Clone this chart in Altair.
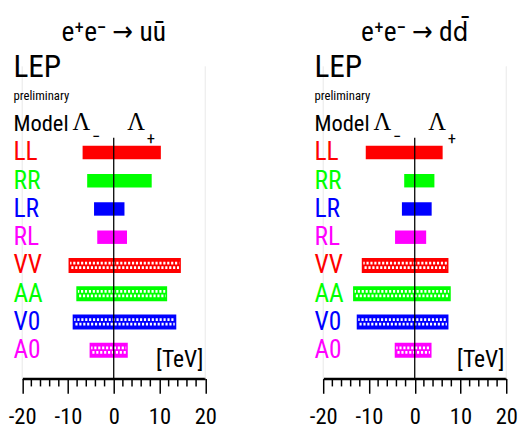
import altair as alt
import pandas as pd

# ---------------- data ----------------
models = ["LL", "RR", "LR", "RL", "VV", "AA", "V0", "A0"]
model_colors = ["#ff0000", "#00ff00", "#0000ff", "#ff00ff",
                "#ff0000", "#00ff00", "#0000ff", "#ff00ff"]
hatched = [False, False, False, False, True, True, True, True]

# e+e- -> u ubar : limits (TeV), lower = -Lambda_-, upper = +Lambda_+
uu_lo = [-6.8, -5.8, -4.3, -3.6, -9.7, -8.0, -8.8, -5.1]
uu_hi = [10.3, 8.3, 2.35, 2.9, 14.5, 11.5, 13.5, 2.9]
# e+e- -> d dbar
dd_lo = [-10.7, -2.3, -2.8, -4.3, -11.4, -13.3, -12.5, -4.2]
dd_hi = [6.1, 4.3, 3.7, 2.5, 7.2, 7.7, 7.2, 3.5]

panel_titles = ["e\u207ae\u207b \u2192 u\u016b", "e\u207ae\u207b \u2192 dd\u0304"]
header_texts = ["LEP", "preliminary", "Model"]
lambda_text = "\u039b"
lambda_subs = ["\u2212", "+"]
unit_text = "[TeV]"
major_ticks = [-20, -10, 0, 10, 20]
minor_ticks = [-18, -16, -14, -12, -8, -6, -4, -2, 2, 4, 6, 8, 12, 14, 16, 18]
frame_edges = [-20, 20]

FONT = "Liberation Sans Narrow, Arial Narrow, Roboto Condensed, DejaVu Sans Condensed, sans-serif"
SERIF = "Liberation Serif, Times New Roman, DejaVu Serif, serif"
W, H = 516, 374


def panel(lo, hi, title, r0, r1):
    xs = alt.Scale(domain=[-20, 20], range=[r0, r1], nice=False, zero=False)
    ax = alt.Axis(values=major_ticks, orient="bottom", tickSize=15, tickWidth=1.5,
                  tickColor="black", domainColor="black", domainWidth=2.5,
                  labelFont=FONT, labelFontSize=23, labelColor="black",
                  labelPadding=13, title=None, grid=False,
                  labelExpr="datum.value + ''", labelOverlap=False, labelFlush=False)
    ys = alt.Scale(domain=models, range=[128.57, 359.43],
                   paddingInner=0.525, paddingOuter=0.2625)
    cs = alt.Scale(domain=models, range=model_colors)
    df = pd.DataFrame({"model": models, "lo": lo, "hi": hi, "hatched": hatched})

    def X(field=None, datum=None):
        if datum is not None:
            return alt.X(datum=datum, type="quantitative", scale=xs, axis=ax)
        return alt.X(field, type="quantitative", scale=xs, axis=ax)

    Y = alt.Y("model:N", scale=ys, axis=None, sort=models)
    C = alt.Color("model:N", scale=cs, legend=None)
    base = alt.Chart(df)

    frame = alt.Chart(pd.DataFrame({"v": frame_edges})).mark_rule(
        color="#e8e8e8", strokeWidth=1).encode(x=X("v"), y=alt.value(55), y2=alt.value(H))

    bars = base.mark_bar().encode(x=X("lo"), x2="hi", y=Y, color=C)
    hb = base.transform_filter("datum.hatched")
    holes1 = hb.mark_rule(color="white", strokeWidth=2.8, strokeDash=[2.2, 1.8],
                          yOffset=-2.3).encode(x=X("lo"), x2="hi", y=Y)
    holes2 = hb.mark_rule(color="white", strokeWidth=2.8, strokeDash=[2.2, 1.8],
                          strokeDashOffset=2, yOffset=2.3).encode(x=X("lo"), x2="hi", y=Y)
    border = hb.mark_bar(filled=False, strokeWidth=1.6).encode(x=X("lo"), x2="hi", y=Y, color=C)

    zero = alt.Chart(pd.DataFrame({"v": [0]})).mark_rule(
        color="black", strokeWidth=1.3).encode(x=X("v"), y=alt.value(128), y2=alt.value(H))
    minor = alt.Chart(pd.DataFrame({"v": minor_ticks})).mark_rule(
        color="black", strokeWidth=1.5).encode(x=X("v"), y=alt.value(H), y2=alt.value(H + 8))

    labels = base.mark_text(align="left", baseline="middle", dx=-9, font=FONT,
                            fontSize=26).encode(x=X(datum=-20), y=Y, text="model:N", color=C)

    def txt(s, xd, dx, y, size, font=FONT, align="left", baseline="alphabetic"):
        return alt.Chart(pd.DataFrame({"t": [s]})).mark_text(
            align=align, baseline=baseline, dx=dx, font=font, fontSize=size,
            color="black").encode(x=X(datum=xd), y=alt.value(y), text="t:N")

    texts = [
        txt(title, 0, 0, 29, 28, align="center"),
        txt(header_texts[0], -20, -9, 66, 32),
        txt(header_texts[1], -20, -9, 89, 13),
        txt(header_texts[2], -20, -9, 121, 23),
        txt(lambda_text, 0, -33, 120, 25, font=SERIF, align="center"),
        txt(lambda_subs[0], 0, -18, 127, 17, align="center", baseline="middle"),
        txt(lambda_text, 0, 23, 120, 25, font=SERIF, align="center"),
        txt(lambda_subs[1], 0, 38, 129, 17, align="center", baseline="middle"),
        txt(unit_text, 20, -2, 362, 24, align="right"),
    ]

    return alt.layer(frame, bars, holes1, holes2, border, zero, minor, labels, *texts)


left = panel(uu_lo, uu_hi, panel_titles[0], 12.5, 199.5)
right = panel(dd_lo, dd_hi, panel_titles[1], 320, 507)

chart = alt.layer(left, right).resolve_scale(x="independent").resolve_axis(
    x="independent").properties(width=W, height=H, padding=0).configure_view(stroke=None)

chart.save("out.html", embed_options={"renderer": "svg", "actions": False})
